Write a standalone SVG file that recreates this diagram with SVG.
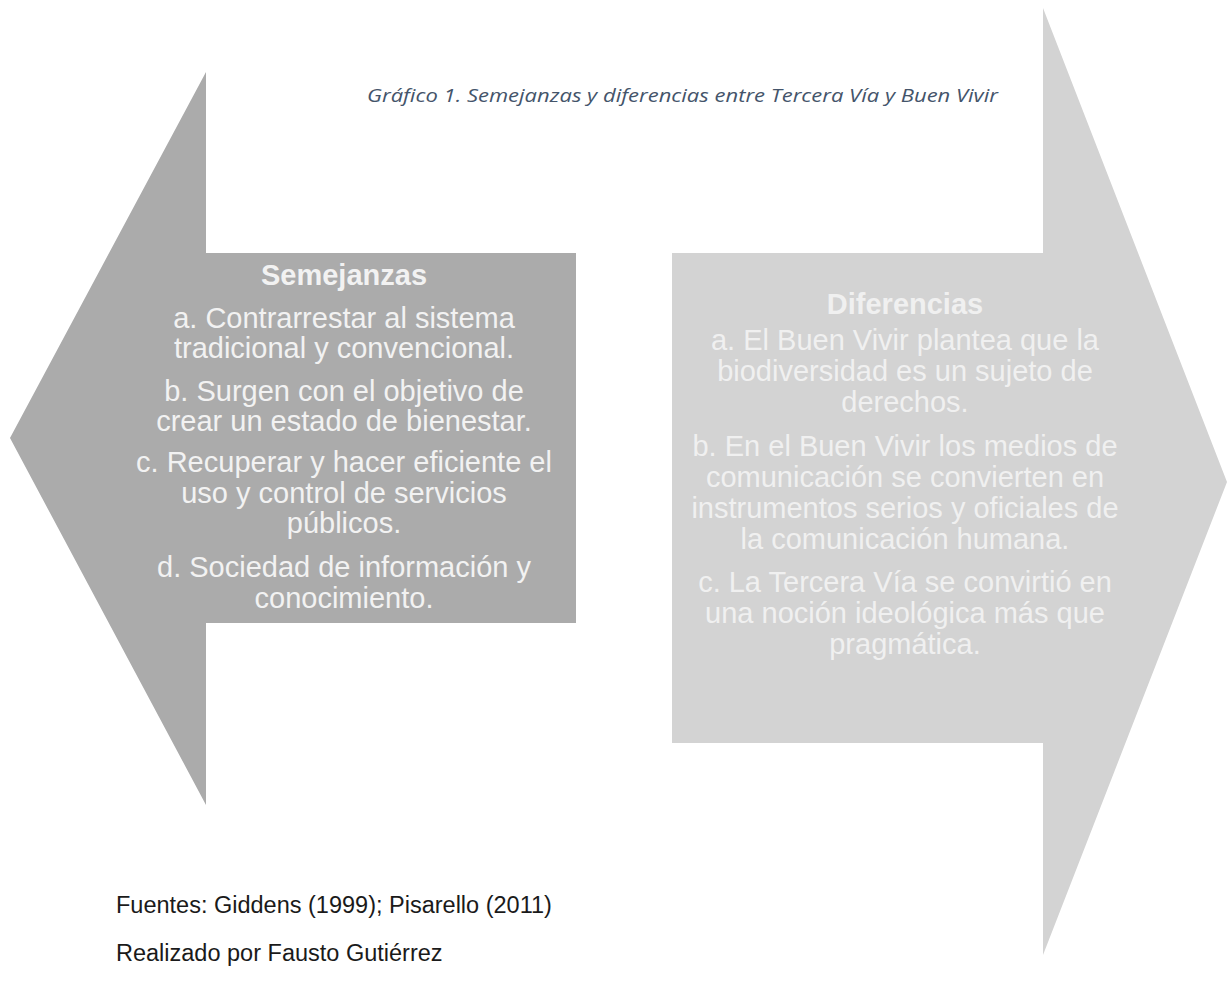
<svg xmlns="http://www.w3.org/2000/svg" width="1227" height="982" viewBox="0 0 1227 982">
  <style>
    .body { font-family: "Liberation Sans", Arial, sans-serif; font-size: 29px; text-anchor: middle; }
    .head { font-weight: bold; }
    .left-t { fill: #F2F2F2; }
    .right-t { fill: #F0F0F0; }
    .caption { font-family: "Open Sans", "Noto Sans", sans-serif; font-style: italic; font-size: 18px; fill: #44546A; }
    .foot { font-family: "Liberation Sans", Arial, sans-serif; font-size: 23.5px; fill: #1A1A1A; }
  </style>
  <rect width="1227" height="982" fill="#FFFFFF"/>

  <g id="caption">
    <text class="caption" x="367" y="102" textLength="631" lengthAdjust="spacingAndGlyphs">Gráfico 1. Semejanzas y diferencias entre Tercera Vía y Buen Vivir</text>
  </g>

  <g id="node-semejanzas">
    <polygon points="10,438 206,72 206,253 576,253 576,623 206,623 206,805" fill="#ABABAB"/>
    <text class="body head left-t" x="344" y="285">Semejanzas</text>
    <text class="body left-t" x="344" y="328">a. Contrarrestar al sistema</text>
    <text class="body left-t" x="344" y="358">tradicional y convencional.</text>
    <text class="body left-t" x="344" y="401">b. Surgen con el objetivo de</text>
    <text class="body left-t" x="344" y="431">crear un estado de bienestar.</text>
    <text class="body left-t" x="344" y="472">c. Recuperar y hacer eficiente el</text>
    <text class="body left-t" x="344" y="503">uso y control de servicios</text>
    <text class="body left-t" x="344" y="533">públicos.</text>
    <text class="body left-t" x="344" y="577">d. Sociedad de información y</text>
    <text class="body left-t" x="344" y="608">conocimiento.</text>
  </g>

  <g id="node-diferencias">
    <polygon points="672,253 1043,253 1043,8 1227,482 1043,955 1043,743 672,743" fill="#D3D3D3"/>
    <text class="body head right-t" x="905" y="314">Diferencias</text>
    <text class="body right-t" x="905" y="350">a. El Buen Vivir plantea que la</text>
    <text class="body right-t" x="905" y="381">biodiversidad es un sujeto de</text>
    <text class="body right-t" x="905" y="412">derechos.</text>
    <text class="body right-t" x="905" y="456">b. En el Buen Vivir los medios de</text>
    <text class="body right-t" x="905" y="487">comunicación se convierten en</text>
    <text class="body right-t" x="905" y="518">instrumentos serios y oficiales de</text>
    <text class="body right-t" x="905" y="549">la comunicación humana.</text>
    <text class="body right-t" x="905" y="592">c. La Tercera Vía se convirtió en</text>
    <text class="body right-t" x="905" y="623">una noción ideológica más que</text>
    <text class="body right-t" x="905" y="654">pragmática.</text>
  </g>

  <g id="connectors"></g>

  <g id="footer">
    <text class="foot" x="116" y="913">Fuentes: Giddens (1999); Pisarello (2011)</text>
    <text class="foot" x="116" y="961">Realizado por Fausto Gutiérrez</text>
  </g>
</svg>
